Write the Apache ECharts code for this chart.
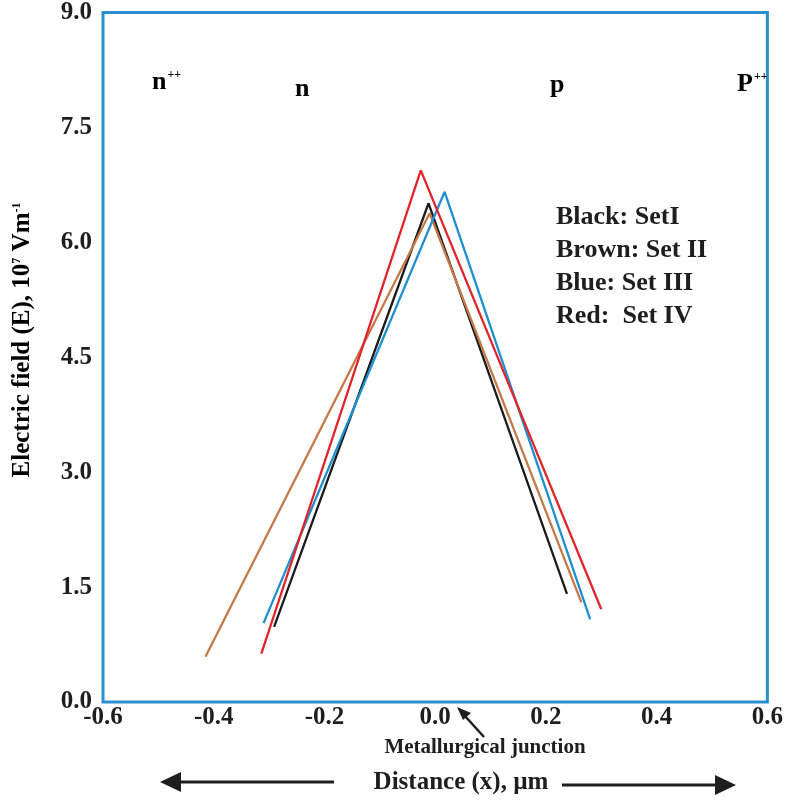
<!DOCTYPE html>
<html>
<head>
<meta charset="utf-8">
<script src="https://cdn.jsdelivr.net/npm/echarts@6/dist/echarts.min.js"></script>
<style>html,body{margin:0;padding:0;background:#fff}#c{width:786px;height:801px}</style>
</head>
<body>
<div id="c"></div>
<script>
// Data: [x (µm), E (10^7 V/m)]
const setI   = [[-0.291, 0.98], [-0.012, 6.51], [0.238, 1.41]];   // Black
const setII  = [[-0.415, 0.59], [-0.010, 6.38], [0.264, 1.30]];   // Brown
const setIII = [[-0.310, 1.03], [0.017, 6.66], [0.280, 1.08]];    // Blue
const setIV  = [[-0.314, 0.63], [-0.026, 6.94], [0.300, 1.21]];   // Red
const seriesNames = ['Set I', 'Set II', 'Set III', 'Set IV'];
const legendLines = ['Black: SetI', 'Brown: Set II', 'Blue: Set III', 'Red:  Set IV'];
const regionLabels = ['n', 'n', 'p', 'P'];
const xTitle = 'Distance (x), µm';
const junctionText = 'Metallurgical junction';

const FONT = '"Liberation Serif", "Times New Roman", serif';
const INK = '#1e1e1e';
const chart = echarts.init(document.getElementById('c'), null, {renderer: 'canvas'});
const frameColor = '#2a8fd0';

const richBase = {
  b: {fontFamily: FONT, fontWeight: 'bold', fontSize: 26, color: INK},
  s: {fontFamily: FONT, fontWeight: 'bold', fontSize: 12, color: '#444', verticalAlign: 'top', padding: [0, 0, 0, 1]}
};

const graphics = [];
function regionText(str, x, y) {
  graphics.push({type: 'text', x: x, y: y, style: {text: str, rich: richBase, align: 'left', verticalAlign: 'middle'}});
}
regionText('{b|' + regionLabels[0] + '}{s|++}', 152, 82);
regionText('{b|' + regionLabels[1] + '}', 295, 89);
regionText('{b|' + regionLabels[2] + '}', 550, 85);
regionText('{b|' + regionLabels[3] + '}{s|++}', 737, 84);

legendLines.forEach((t, i) => {
  graphics.push({type: 'text', x: 556, y: 217 + i * 33, style: {text: t, fontFamily: FONT, fontWeight: 'bold', fontSize: 26, fill: INK, align: 'left', verticalAlign: 'middle'}});
});

// Y axis title (rotated, reads bottom-to-top)
graphics.push({
  type: 'text', x: 23, y: 340, rotation: Math.PI / 2,
  style: {
    text: '{a|Electric field (E), 10}{s|7}{a| Vm}{s|-1}',
    align: 'center', verticalAlign: 'middle',
    rich: {
      a: {fontFamily: FONT, fontWeight: 'bold', fontSize: 25, color: INK},
      s: {fontFamily: FONT, fontWeight: 'bold', fontSize: 12, color: INK, verticalAlign: 'top'}
    }
  }
});

// Metallurgical junction annotation
graphics.push({type: 'text', x: 485, y: 748, style: {text: junctionText, fontFamily: FONT, fontWeight: 'bold', fontSize: 21, fill: INK, align: 'center', verticalAlign: 'middle'}});
graphics.push({type: 'line', shape: {x1: 484, y1: 737, x2: 465, y2: 716}, style: {stroke: INK, lineWidth: 2.5}});
graphics.push({type: 'polygon', shape: {points: [[457, 707], [471, 713], [463, 720]]}, style: {fill: INK}});

// Distance title and arrows
graphics.push({type: 'text', x: 461, y: 783, style: {text: xTitle, fontFamily: FONT, fontWeight: 'bold', fontSize: 25, fill: INK, align: 'center', verticalAlign: 'middle'}});
graphics.push({type: 'line', shape: {x1: 334, y1: 782, x2: 176, y2: 782}, style: {stroke: INK, lineWidth: 3}});
graphics.push({type: 'polygon', shape: {points: [[160, 782], [181, 772], [181, 792]]}, style: {fill: INK}});
graphics.push({type: 'line', shape: {x1: 562, y1: 785, x2: 720, y2: 785}, style: {stroke: INK, lineWidth: 3}});
graphics.push({type: 'polygon', shape: {points: [[736, 785], [715, 775], [715, 795]]}, style: {fill: INK}});

const colors = ['#1c1c1c', '#c47a48', '#1f8fd2', '#e0262c'];
const data = [setI, setII, setIII, setIV];

chart.setOption({
  animation: false,
  backgroundColor: '#fff',
  grid: {left: 103, right: 14, top: 12, bottom: 99, show: true, borderColor: frameColor, borderWidth: 3, backgroundColor: 'transparent'},
  xAxis: {
    type: 'value', min: -0.6, max: 0.6, interval: 0.2,
    axisLine: {show: false}, axisTick: {show: false}, splitLine: {show: false},
    axisLabel: {formatter: v => v.toFixed(1), fontFamily: FONT, fontWeight: 'bold', fontSize: 25, color: INK, margin: 3}
  },
  yAxis: {
    type: 'value', min: 0, max: 9, interval: 1.5,
    axisLine: {show: false}, axisTick: {show: false}, splitLine: {show: false},
    axisLabel: {formatter: v => v.toFixed(1), fontFamily: FONT, fontWeight: 'bold', fontSize: 25, color: INK, margin: 11}
  },
  series: data.map((d, i) => ({
    name: seriesNames[i], type: 'line', data: d, symbol: 'none',
    lineStyle: {color: colors[i], width: 2.3}, z: 3
  })),
  graphic: graphics
});
</script>
</body>
</html>
